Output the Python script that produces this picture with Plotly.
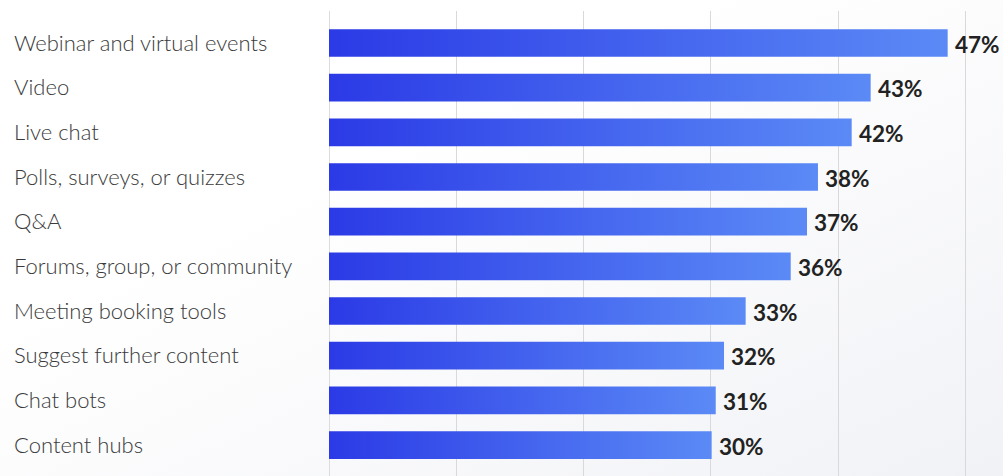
import base64
import plotly.graph_objects as go

categories = [
    "Webinar and virtual events",
    "Video",
    "Live chat",
    "Polls, surveys, or quizzes",
    "Q&A",
    "Forums, group, or community",
    "Meeting booking tools",
    "Suggest further content",
    "Chat bots",
    "Content hubs",
]
bar_values = [48.6, 42.55, 41.06, 38.41, 37.55, 36.27, 32.73, 31.03, 30.38, 30.06]
value_labels = ["47%", "43%", "42%", "38%", "37%", "36%", "33%", "32%", "31%", "30%"]

W, H = 1003, 476
LEFT, TOP = 329, 11
HALF = 0.31
grad = [[0, "#2b3ae6"], [1, "#5b8af6"]]

fig = go.Figure()
for i, (cat, v) in enumerate(zip(categories, bar_values)):
    fig.add_trace(go.Scatter(
        x=[0, v, v, 0, 0],
        y=[i - HALF, i - HALF, i + HALF, i + HALF, i - HALF],
        mode="lines", line=dict(width=0), fill="toself",
        fillgradient=dict(type="horizontal", colorscale=grad),
        hoverinfo="skip", showlegend=False,
    ))

annotations = []
for i, (v, lab) in enumerate(zip(bar_values, value_labels)):
    annotations.append(dict(
        x=v, y=i, xref="x", yref="y", text=lab, showarrow=False,
        xanchor="left", yanchor="middle", xshift=5, yshift=-1,
        font=dict(family="Lato", size=22.5, color="#222222", weight="bold"),
    ))
for i, cat in enumerate(categories):
    annotations.append(dict(
        x=(12 - LEFT) / (W - LEFT), y=i, xref="paper", yref="y", text=cat,
        showarrow=False, xanchor="left", yanchor="middle", yshift=1,
        font=dict(family="Lato", size=22, color="#3a3a3a", weight=300),
    ))

svg = (
    f'<svg xmlns="http://www.w3.org/2000/svg" width="{W}" height="{H}">'
    '<defs><linearGradient id="g" x1="0" y1="0" x2="1" y2="1">'
    '<stop offset="0" stop-color="#ffffff"/><stop offset="0.35" stop-color="#ffffff"/>'
    '<stop offset="1" stop-color="#f1f2f6"/></linearGradient></defs>'
    f'<rect width="{W}" height="{H}" fill="url(#g)"/></svg>'
)
src = "data:image/svg+xml;base64," + base64.b64encode(svg.encode()).decode()

x_max = (W - LEFT) / 12.73
y_top = -(43 - TOP) / 44.67
y_bot = y_top + (H - TOP) / 44.67

fig.update_layout(
    width=W, height=H,
    margin=dict(l=LEFT, r=0, t=TOP, b=0, pad=0),
    paper_bgcolor="rgba(0,0,0,0)", plot_bgcolor="rgba(0,0,0,0)",
    annotations=annotations,
    images=[dict(source=src, xref="paper", yref="paper",
                 x=-LEFT / (W - LEFT), y=1 + TOP / (H - TOP),
                 sizex=W / (W - LEFT), sizey=H / (H - TOP),
                 xanchor="left", yanchor="top", sizing="stretch", layer="below")],
    xaxis=dict(range=[0, x_max], showticklabels=False, ticks="",
               showgrid=True, gridcolor="#d9d9d9", gridwidth=1, dtick=10,
               zeroline=False, showline=False, fixedrange=True),
    yaxis=dict(range=[y_bot, y_top], showticklabels=False, ticks="",
               showgrid=False, zeroline=False, showline=False, fixedrange=True),
    shapes=[dict(type="line", xref="x", yref="paper", x0=0, x1=0, y0=0, y1=1,
                 line=dict(color="#dcdcdc", width=2), layer="below")],
)
fig.write_html(
    "out.html",
    config={"displayModeBar": False},
    post_script="document.body.style.margin='0';document.body.style.overflow='hidden';",
)
